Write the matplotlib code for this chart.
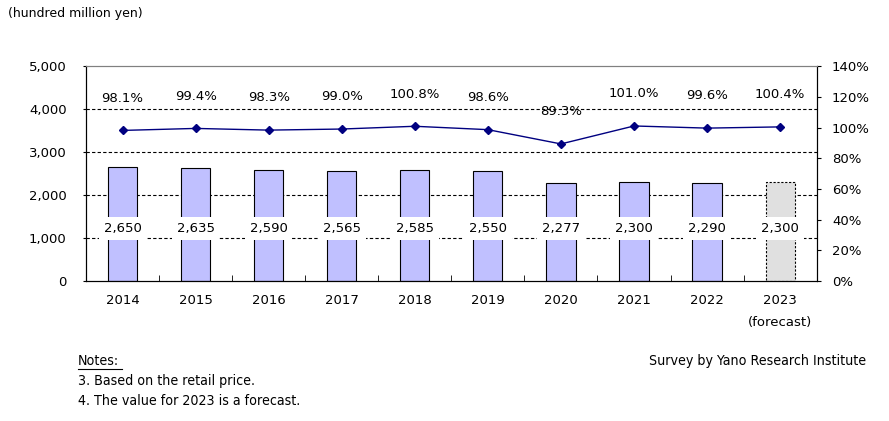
import matplotlib
matplotlib.use("Agg")
import matplotlib.pyplot as plt
from matplotlib.lines import Line2D
import numpy as np

years = ["2014", "2015", "2016", "2017", "2018", "2019", "2020", "2021", "2022", "2023"]
sales = [2650, 2635, 2590, 2565, 2585, 2550, 2277, 2300, 2290, 2300]
growth = [98.1, 99.4, 98.3, 99.0, 100.8, 98.6, 89.3, 101.0, 99.6, 100.4]
left_ticks = [0, 1000, 2000, 3000, 4000, 5000]
right_ticks = [0, 20, 40, 60, 80, 100, 120, 140]

plt.rcParams["font.family"] = ["DejaVu Sans"]
plt.rcParams["font.size"] = 9.5

fig = plt.figure(figsize=(8.89, 4.21), dpi=100)
ax = fig.add_axes([0.0967, 0.3325, 0.822, 0.5105])
x = np.arange(len(years))

# gridlines
for t in left_ticks[1:-1]:
    ax.axhline(t, color="black", linestyle=(0, (3, 2)), linewidth=0.8, zorder=1)

for i in x:
    if i == len(years) - 1:
        ax.bar(i, sales[i], width=0.4, color="#E0E0E0", edgecolor="black",
               linewidth=0.8, linestyle=(0, (2, 1.5)), zorder=2)
    else:
        ax.bar(i, sales[i], width=0.4, color="#C0C0FF", edgecolor="black",
               linewidth=0.8, zorder=2)
    ax.text(i, 1230, f"{sales[i]:,}", ha="center", va="center", fontsize=9.5,
            bbox=dict(facecolor="white", edgecolor="none", pad=3.5), zorder=3)

ax.set_xlim(-0.5, len(years) - 0.5)
ax.set_ylim(0, 5000)
ax.set_yticks(left_ticks)
ax.set_yticklabels([f"{t:,}" for t in left_ticks])
ax.set_xticks(x)
ax.set_xticklabels(years)
ax.set_xticks(np.arange(0.5, len(years) - 1, 1), minor=True)
ax.tick_params(axis="x", which="major", length=0, pad=9)
ax.tick_params(axis="x", which="minor", length=4, direction="in")
ax.tick_params(axis="y", length=2, direction="out", pad=12)
for s in ax.spines.values():
    s.set_linewidth(0.8)
ax.spines["top"].set_color("#808080")
ax.text(len(years) - 1, -0.165, "(forecast)", transform=ax.get_xaxis_transform(),
        ha="center", va="top", fontsize=9.5)

ax2 = ax.twinx()
ax2.plot(x, growth, color="#000080", marker="D", markersize=3.8, linewidth=1, zorder=4)
ax2.set_ylim(0, 140)
ax2.set_yticks(right_ticks)
ax2.set_yticklabels([f"{t}%" for t in right_ticks])
ax2.tick_params(axis="y", length=3, direction="out", pad=8)
ax2.spines["top"].set_color("#808080")
for i in x:
    ax2.text(i, growth[i] + 21, f"{growth[i]:.1f}%", ha="center", va="center", fontsize=9.5)

fig.text(8 / 889, 1 - 14 / 421, "(hundred million yen)", ha="left", va="center", fontsize=9)

fig.text(78 / 889, 1 - 361 / 421, "Notes:", ha="left", va="center", fontsize=10.2,
         stretch="condensed")
fig.add_artist(Line2D([78 / 889, 122 / 889], [1 - 369 / 421, 1 - 369 / 421],
                      color="black", linewidth=0.8))
fig.text(78 / 889, 1 - 381 / 421, "3. Based on the retail price.", ha="left", va="center",
         fontsize=10.2, stretch="condensed")
fig.text(78 / 889, 1 - 401 / 421, "4. The value for 2023 is a forecast.", ha="left",
         va="center", fontsize=10.2, stretch="condensed")
fig.text(866 / 889, 1 - 361 / 421, "Survey by Yano Research Institute", ha="right",
         va="center", fontsize=10.2, stretch="condensed")

fig.savefig("out.png", dpi=100)
